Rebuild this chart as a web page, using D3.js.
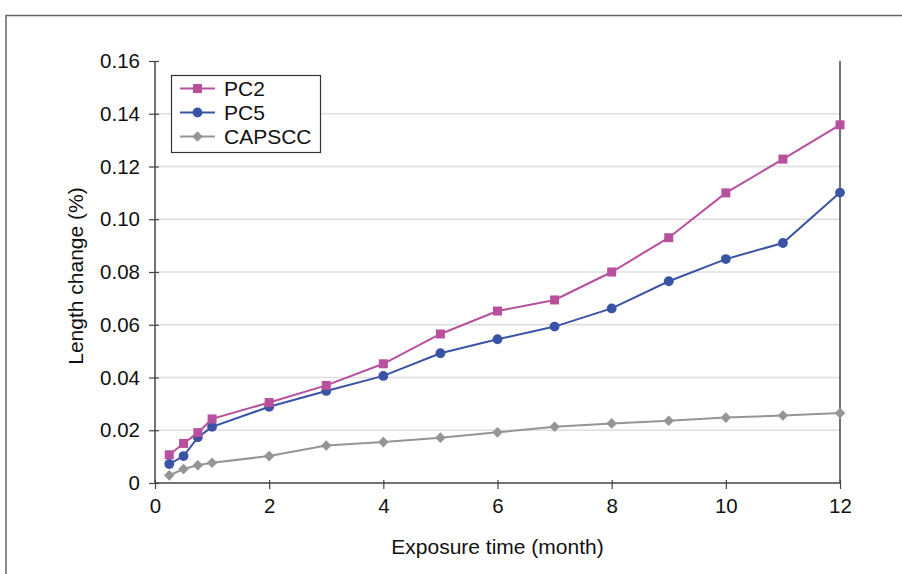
<!DOCTYPE html>
<html>
<head>
<meta charset="utf-8">
<script src="https://cdn.jsdelivr.net/npm/d3@7"></script>
<style>
  html, body { margin: 0; padding: 0; background: #fff; }
  svg { display: block; font-family: "Liberation Sans", Arial, Helvetica, sans-serif; }
</style>
</head>
<body>
<svg id="chart" width="902" height="574"></svg>
<script>
// Exposure time (months) at which length change was measured
const months = [0.25, 0.5, 0.75, 1, 2, 3, 4, 5, 6, 7, 8, 9, 10, 11, 12];

// Length change (%) for each mix
const pc2    = [0.0107, 0.0150, 0.0191, 0.0243, 0.0305, 0.0370, 0.0452, 0.0565, 0.0652, 0.0694, 0.0800, 0.0930, 0.1100, 0.1228, 0.1358];
const pc5    = [0.0072, 0.0102, 0.0173, 0.0213, 0.0289, 0.0349, 0.0406, 0.0492, 0.0545, 0.0593, 0.0662, 0.0765, 0.0849, 0.0910, 0.1101];
const capscc = [0.0029, 0.0053, 0.0067, 0.0077, 0.0102, 0.0142, 0.0155, 0.0172, 0.0192, 0.0213, 0.0226, 0.0236, 0.0248, 0.0256, 0.0265];

const seriesNames = ["PC2", "PC5", "CAPSCC"];
const xTicks = [0, 2, 4, 6, 8, 10, 12];
const yTicks = [0, 0.02, 0.04, 0.06, 0.08, 0.10, 0.12, 0.14, 0.16];
const yTickLabels = ["0", "0.02", "0.04", "0.06", "0.08", "0.10", "0.12", "0.14", "0.16"];

// diamond drawn as a square turned 45 degrees
const symbolRhomb = {
  draw(ctx, size) {
    const r = Math.sqrt(size / 2);
    ctx.moveTo(0, -r); ctx.lineTo(r, 0); ctx.lineTo(0, r); ctx.lineTo(-r, 0); ctx.closePath();
  }
};

const series = [
  { name: seriesNames[0], values: pc2,    color: "#b8509e", symbol: d3.symbolSquare, size: 81 },
  { name: seriesNames[1], values: pc5,    color: "#3a54a5", symbol: d3.symbolCircle, size: 76 },
  { name: seriesNames[2], values: capscc, color: "#959595", symbol: symbolRhomb,     size: 56 }
];

const svg = d3.select("#chart");
const plot = { left: 155, right: 840, top: 61, bottom: 483 };
const tickFont = 20.5, titleFont = 21;

const x = d3.scaleLinear().domain([0, 12]).range([plot.left, plot.right]);
const y = d3.scaleLinear().domain([0, 0.16]).range([plot.bottom, plot.top]);

// outer frame of the figure panel
svg.append("path")
  .attr("d", "M6,574 L6,15.5 L902,15.5")
  .attr("fill", "none").attr("stroke", "#666").attr("stroke-width", 1.5);

// horizontal gridlines
svg.append("g").selectAll("line")
  .data(yTicks.filter(t => t > 0 && t < 0.16))
  .join("line")
  .attr("x1", plot.left).attr("x2", plot.right)
  .attr("y1", d => y(d)).attr("y2", d => y(d))
  .attr("stroke", "#dedede").attr("stroke-width", 1.5);

// right border of the plot area
svg.append("line")
  .attr("x1", plot.right).attr("x2", plot.right).attr("y1", plot.top).attr("y2", plot.bottom)
  .attr("stroke", "#444").attr("stroke-width", 1.5);

// y axis
const yAxis = d3.axisLeft(y).tickValues(yTicks)
  .tickFormat((d, i) => yTickLabels[i]).tickSize(6).tickPadding(9);
const gy = svg.append("g").attr("transform", `translate(${plot.left},0)`).call(yAxis);
gy.select(".domain").attr("stroke", "#444").attr("stroke-width", 1.5).attr("d", `M0,${plot.top}V${plot.bottom}`);
gy.selectAll(".tick line").attr("stroke", "#444").attr("stroke-width", 1.2).attr("x1", 4).attr("x2", -6);
gy.selectAll(".tick text").attr("font-size", tickFont).attr("fill", "#111")
  .attr("font-family", "'Liberation Sans', Arial, sans-serif");

// x axis
const xAxis = d3.axisBottom(x).tickValues(xTicks).tickFormat(d3.format("d")).tickSize(6).tickPadding(9);
const gx = svg.append("g").attr("transform", `translate(0,${plot.bottom})`).call(xAxis);
gx.select(".domain").attr("stroke", "#444").attr("stroke-width", 1.5).attr("d", `M${plot.left},0H${plot.right}`);
gx.selectAll(".tick line").attr("stroke", "#444").attr("stroke-width", 1.2).attr("y1", -3).attr("y2", 6);
gx.selectAll(".tick text").attr("font-size", tickFont).attr("fill", "#111")
  .attr("font-family", "'Liberation Sans', Arial, sans-serif");

// axis titles
svg.append("text")
  .attr("x", (plot.left + plot.right) / 2).attr("y", 554)
  .attr("text-anchor", "middle").attr("font-size", titleFont).attr("fill", "#111")
  .text("Exposure time (month)");
svg.append("text")
  .attr("transform", `translate(83,${(plot.top + plot.bottom) / 2 + 4}) rotate(-90)`)
  .attr("text-anchor", "middle").attr("font-size", titleFont).attr("fill", "#111")
  .text("Length change (%)");

// series lines and markers
const line = d3.line().x((d, i) => x(months[i])).y(d => y(d));
series.slice().reverse().forEach(s => {
  const g = svg.append("g");
  g.append("path").datum(s.values)
    .attr("d", line).attr("fill", "none")
    .attr("stroke", s.color).attr("stroke-width", 2);
  g.selectAll("path.marker").data(s.values).join("path")
    .attr("class", "marker")
    .attr("transform", (d, i) => `translate(${x(months[i])},${y(d)})`)
    .attr("d", d3.symbol().type(s.symbol).size(s.size))
    .attr("fill", s.color);
});

// legend
const lg = svg.append("g");
lg.append("rect")
  .attr("x", 171.5).attr("y", 75.5).attr("width", 149).attr("height", 77)
  .attr("fill", "#fff").attr("stroke", "#333").attr("stroke-width", 1.2);
series.forEach((s, i) => {
  const cy = 88.5 + i * 24;
  lg.append("line").attr("x1", 180).attr("x2", 215).attr("y1", cy).attr("y2", cy)
    .attr("stroke", s.color).attr("stroke-width", 2);
  lg.append("path").attr("transform", `translate(197.5,${cy})`)
    .attr("d", d3.symbol().type(s.symbol).size(s.size)).attr("fill", s.color);
  lg.append("text").attr("x", 224).attr("y", cy + 7.5)
    .attr("font-size", titleFont).attr("fill", "#111").text(s.name);
});
</script>
</body>
</html>
